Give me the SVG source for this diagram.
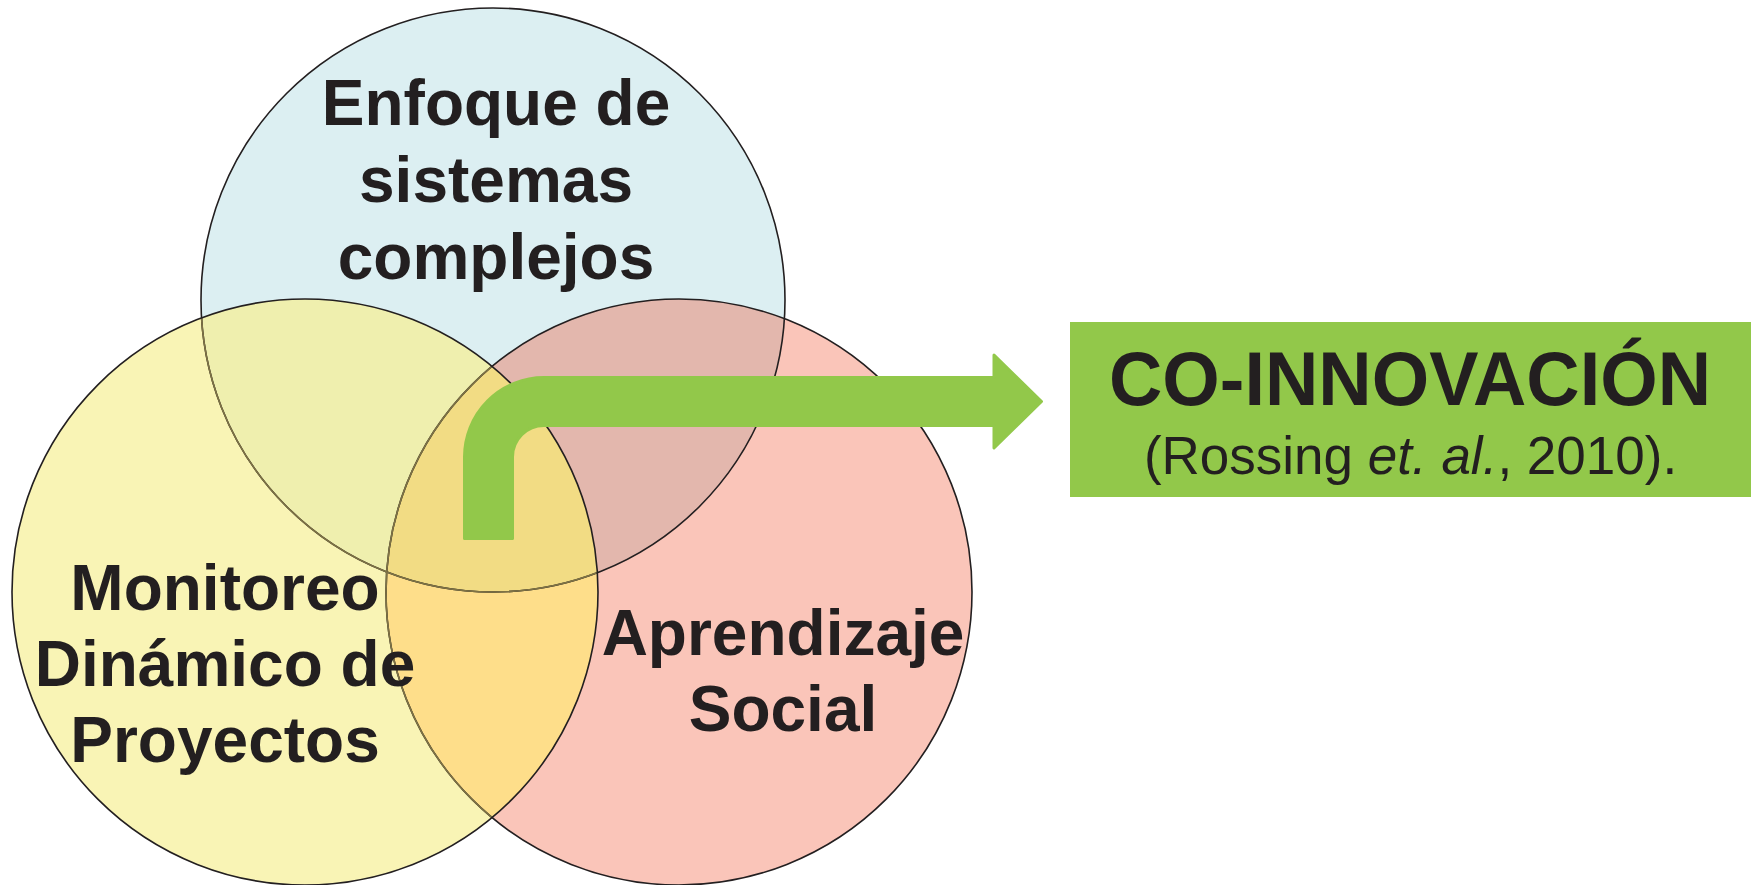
<svg xmlns="http://www.w3.org/2000/svg" width="1756" height="885" viewBox="0 0 1756 885">
<style>
.lbl{font-family:"Liberation Sans",Arial,sans-serif;font-weight:bold;font-size:64px;fill:#231F20;text-anchor:middle}
.edge{fill:none;stroke:#231F20;stroke-width:1.6}
.edge2{fill:none;stroke:#7E7244;stroke-width:1.6}
</style>
<defs>
<clipPath id="cb"><circle cx="493" cy="300" r="292"/></clipPath>
<clipPath id="cy"><circle cx="305" cy="592" r="293"/></clipPath>
<clipPath id="cp"><circle cx="679" cy="592" r="293"/></clipPath>
</defs>
<rect width="1756" height="885" fill="#FFFFFF"/>
<g id="venn-fills">
<circle cx="493" cy="300" r="292" fill="#DCEFF2"/>
<circle cx="679" cy="592" r="293" fill="#FAC5B9"/>
<circle cx="679" cy="592" r="293" fill="#E3B7AD" clip-path="url(#cb)"/>
<circle cx="305" cy="592" r="293" fill="#F9F4B5"/>
<circle cx="305" cy="592" r="293" fill="#EFEFAE" clip-path="url(#cb)"/>
<circle cx="305" cy="592" r="293" fill="#FEDE8A" clip-path="url(#cp)"/>
<g clip-path="url(#cb)"><circle cx="305" cy="592" r="293" fill="#F2DC84" clip-path="url(#cp)"/></g>
</g>
<g id="venn-edges">
<circle class="edge" cx="493" cy="300" r="292"/>
<circle class="edge" cx="679" cy="592" r="293"/>
<g clip-path="url(#cy)">
<circle class="edge2" cx="493" cy="300" r="292"/>
<circle class="edge2" cx="679" cy="592" r="293"/>
</g>
<circle class="edge" cx="305" cy="592" r="293"/>
</g>
<g id="node-sistemas">
<text class="lbl" x="496" y="125">Enfoque de</text>
<text class="lbl" x="496" y="202">sistemas</text>
<text class="lbl" x="496" y="279">complejos</text>
</g>
<g id="node-monitoreo">
<text class="lbl" x="225" y="610">Monitoreo</text>
<text class="lbl" x="225" y="686">Dinámico de</text>
<text class="lbl" x="225" y="762">Proyectos</text>
</g>
<g id="node-aprendizaje">
<text class="lbl" x="783" y="655">Aprendizaje</text>
<text class="lbl" x="783" y="731">Social</text>
</g>
<g id="connectors">
<path d="M 464.5 538.5 V 457 A 79.5 79.5 0 0 1 544 377.5 H 994 V 355 L 1041.5 401.5 L 994 448 V 425.5 H 544 A 31.5 31.5 0 0 0 512.5 457 V 538.5 Z" fill="#92C84A" stroke="#92C84A" stroke-width="3" stroke-linejoin="round"/>
</g>
<g id="node-coinnovacion">
<rect x="1070" y="322" width="681" height="175" fill="#92C84A"/>
<text x="1410" y="405" font-family="Liberation Sans, Arial, sans-serif" font-weight="bold" font-size="76" fill="#231F20" text-anchor="middle" textLength="602" lengthAdjust="spacingAndGlyphs">CO-INNOVACIÓN</text>
<text x="1410.5" y="474" font-family="Liberation Sans, Arial, sans-serif" font-size="53" fill="#231F20" text-anchor="middle">(Rossing <tspan font-style="italic">et. al.</tspan>, 2010).</text>
</g>
</svg>
